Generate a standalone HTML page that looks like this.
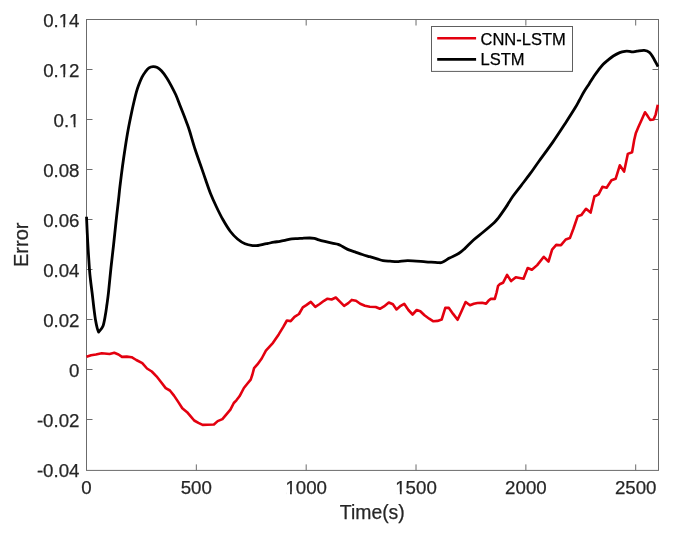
<!DOCTYPE html>
<html><head><meta charset="utf-8"><style>
html,body{margin:0;padding:0;background:#fff;width:673px;height:533px;overflow:hidden}
svg{display:block;will-change:transform}
text{font-family:"Liberation Sans",sans-serif;stroke-width:0.25px}
</style></head><body>
<svg width="673" height="533" viewBox="0 0 673 533">
<rect width="673" height="533" fill="#fff"/>
<rect x="86.5" y="19.5" width="572.0" height="450.9" fill="none" stroke="#6b6b6b" stroke-width="1"/>
<path d="M86.5 419.50h6 M658.5 419.50h-6 M86.5 369.50h6 M658.5 369.50h-6 M86.5 319.50h6 M658.5 319.50h-6 M86.5 269.50h6 M658.5 269.50h-6 M86.5 219.50h6 M658.5 219.50h-6 M86.5 169.50h6 M658.5 169.50h-6 M86.5 119.50h6 M658.5 119.50h-6 M86.5 69.50h6 M658.5 69.50h-6 M196.34 470.4v-6 M196.34 19.5v6 M306.18 470.4v-6 M306.18 19.5v6 M416.02 470.4v-6 M416.02 19.5v6 M525.86 470.4v-6 M525.86 19.5v6 M635.70 470.4v-6 M635.70 19.5v6" stroke="#6b6b6b" stroke-width="1"/>
<path d="M86.50 216.80C86.70 220.95 87.22 233.08 87.70 241.70C88.18 250.32 88.93 262.12 89.40 268.50C89.87 274.88 90.03 275.83 90.50 280.00C90.97 284.17 91.63 288.80 92.20 293.50C92.77 298.20 93.33 303.68 93.90 308.20C94.47 312.72 95.03 317.22 95.60 320.60C96.17 323.98 96.80 326.58 97.30 328.50C97.80 330.42 98.38 331.50 98.60 332.10C99.32 331.12 101.80 328.87 102.90 326.20C104.00 323.53 104.53 319.67 105.20 316.10C105.87 312.53 106.35 308.75 106.90 304.80C107.45 300.85 107.82 298.62 108.50 292.40C109.18 286.18 110.17 275.32 111.00 267.50C111.83 259.68 112.67 253.10 113.50 245.50C114.33 237.90 115.17 229.48 116.00 221.90C116.83 214.32 117.85 205.83 118.50 200.00C119.15 194.17 119.23 192.52 119.90 186.90C120.57 181.28 121.60 172.95 122.50 166.30C123.40 159.65 124.37 153.05 125.30 147.00C126.23 140.95 127.05 135.75 128.10 130.00C129.15 124.25 130.55 117.50 131.60 112.50C132.65 107.50 133.62 103.37 134.40 100.00C135.18 96.63 135.62 94.72 136.30 92.30C136.98 89.88 137.57 88.00 138.50 85.50C139.43 83.00 140.77 79.55 141.90 77.30C143.03 75.05 144.12 73.57 145.30 72.00C146.48 70.43 147.70 68.80 149.00 67.90C150.30 67.00 151.72 66.67 153.10 66.60C154.48 66.53 155.92 66.80 157.30 67.50C158.68 68.20 159.82 69.07 161.40 70.80C162.98 72.53 165.15 75.40 166.80 77.90C168.45 80.40 169.80 82.98 171.30 85.80C172.80 88.62 174.38 91.62 175.80 94.80C177.22 97.98 178.50 101.62 179.80 104.90C181.10 108.18 182.43 111.48 183.60 114.50C184.77 117.52 185.80 120.25 186.80 123.00C187.80 125.75 188.23 126.67 189.60 131.00C190.97 135.33 192.97 142.73 195.00 149.00C197.03 155.27 200.02 163.43 201.80 168.60C203.58 173.77 204.25 175.85 205.70 180.00C207.15 184.15 208.70 189.00 210.50 193.50C212.30 198.00 214.42 202.62 216.50 207.00C218.58 211.38 220.68 215.72 223.00 219.80C225.32 223.88 227.98 228.30 230.40 231.50C232.82 234.70 235.07 236.95 237.50 239.00C239.93 241.05 242.48 242.70 245.00 243.80C247.52 244.90 250.43 245.32 252.60 245.60C254.77 245.88 256.10 245.73 258.00 245.50C259.90 245.27 262.33 244.55 264.00 244.20C265.67 243.85 266.35 243.73 268.00 243.40C269.65 243.07 271.92 242.55 273.90 242.20C275.88 241.85 277.92 241.65 279.90 241.30C281.88 240.95 283.82 240.52 285.80 240.10C287.78 239.68 289.82 239.05 291.80 238.80C293.78 238.55 295.93 238.68 297.70 238.60C299.47 238.52 300.37 238.40 302.40 238.30C304.43 238.20 307.92 237.98 309.90 238.00C311.88 238.02 312.82 238.08 314.30 238.40C315.78 238.72 317.07 239.40 318.80 239.90C320.53 240.40 322.48 240.87 324.70 241.40C326.92 241.93 329.87 242.62 332.10 243.10C334.33 243.58 336.37 243.73 338.10 244.30C339.83 244.87 340.70 245.57 342.50 246.50C344.30 247.43 346.83 249.00 348.90 249.90C350.97 250.80 352.67 251.13 354.90 251.90C357.13 252.67 359.83 253.70 362.30 254.50C364.77 255.30 367.23 255.97 369.70 256.70C372.17 257.43 374.87 258.25 377.10 258.90C379.33 259.55 380.95 260.22 383.10 260.60C385.25 260.98 387.47 261.03 390.00 261.20C392.53 261.37 395.33 261.68 398.30 261.60C401.27 261.52 403.23 260.67 407.80 260.70C412.37 260.73 420.73 261.48 425.70 261.80C430.67 262.12 434.83 262.52 437.60 262.60C440.37 262.68 440.32 263.05 442.30 262.30C444.28 261.55 446.72 259.60 449.50 258.10C452.28 256.60 456.42 254.92 459.00 253.30C461.58 251.68 462.58 250.62 465.00 248.40C467.42 246.18 470.45 242.73 473.50 240.00C476.55 237.27 479.78 234.97 483.30 232.00C486.82 229.03 492.02 224.65 494.60 222.20C497.18 219.75 496.93 219.77 498.80 217.30C500.67 214.83 503.45 210.90 505.80 207.40C508.15 203.90 510.32 199.98 512.90 196.30C515.48 192.62 518.48 188.98 521.30 185.30C524.12 181.62 526.88 178.17 529.80 174.20C532.72 170.23 534.93 166.88 538.80 161.50C542.67 156.12 548.57 148.28 553.00 141.90C557.43 135.52 561.73 128.83 565.40 123.20C569.07 117.57 572.65 111.97 575.00 108.10C577.35 104.23 578.00 102.72 579.50 100.00C581.00 97.28 582.40 94.48 584.00 91.80C585.60 89.12 587.42 86.53 589.10 83.90C590.78 81.27 592.52 78.35 594.10 76.00C595.68 73.65 597.08 71.77 598.60 69.80C600.12 67.83 601.68 65.78 603.20 64.20C604.72 62.62 606.02 61.67 607.70 60.30C609.38 58.93 611.30 57.28 613.30 56.00C615.30 54.72 617.77 53.38 619.70 52.60C621.63 51.82 623.30 51.52 624.90 51.30C626.50 51.08 628.07 51.20 629.30 51.30C630.53 51.40 631.02 51.92 632.30 51.90C633.58 51.88 635.02 51.45 637.00 51.20C638.98 50.95 642.13 50.22 644.20 50.40C646.27 50.58 647.92 51.12 649.40 52.30C650.88 53.48 651.67 55.12 653.10 57.50C654.53 59.88 657.18 65.08 658.00 66.60" fill="none" stroke="#000" stroke-width="2.8" stroke-linejoin="round" stroke-linecap="butt"/>
<polyline points="86.5,356.8 91.1,355.2 95.9,354.5 101.8,353.3 109.6,354.0 114.3,352.8 118.5,354.5 122.0,356.9 126.8,356.6 131.6,357.2 136.3,360.0 142.3,363.2 147.0,368.5 151.8,371.5 156.5,376.3 160.4,381.3 165.7,388.1 169.9,390.5 174.0,395.6 178.2,401.9 182.3,408.3 187.1,412.2 190.7,416.4 194.2,420.5 198.4,422.9 202.6,424.9 207.3,424.7 213.9,424.5 217.7,421.1 222.4,419.1 226.4,414.4 230.4,409.7 233.8,403.0 236.4,400.3 239.5,396.3 243.9,388.0 247.3,383.8 250.7,379.6 252.4,374.5 254.1,368.2 257.4,364.4 261.7,358.5 265.9,350.7 273.0,342.8 278.7,334.4 283.3,326.9 286.9,320.5 290.7,321.1 294.5,316.8 299.0,314.0 302.8,307.4 306.3,305.1 310.8,301.9 315.3,306.8 319.7,304.0 324.0,300.8 327.5,298.7 331.6,299.5 335.8,297.5 339.9,301.6 344.1,305.8 348.3,303.1 351.8,299.9 356.0,300.8 360.2,303.8 364.9,305.8 369.8,306.8 375.7,307.0 379.9,308.8 384.0,306.4 388.8,302.5 392.9,304.3 396.5,309.4 400.7,305.8 404.2,303.8 408.4,310.0 412.6,314.5 416.7,310.0 420.3,311.2 424.5,315.3 429.2,318.7 433.4,321.3 437.5,320.9 441.7,319.5 445.3,307.9 448.9,307.9 453.1,313.9 457.6,319.8 461.4,311.5 465.6,302.0 470.0,305.3 473.8,303.8 477.5,303.0 482.0,302.8 486.1,303.6 488.4,300.8 490.6,298.9 494.8,298.9 496.6,292.5 498.1,285.8 499.6,284.3 503.0,282.8 507.1,274.9 511.1,281.1 515.8,277.2 523.5,278.8 527.7,268.0 531.9,269.8 537.2,265.1 543.8,256.8 548.5,261.5 552.1,249.6 556.2,244.9 561.0,245.2 565.7,239.5 569.9,238.1 573.5,228.5 577.7,216.2 581.3,215.1 586.0,208.8 590.6,212.6 594.4,196.5 598.6,194.4 602.4,186.8 606.6,187.7 611.5,180.2 615.6,178.8 619.8,165.3 624.1,171.6 627.8,153.9 632.1,152.2 634.2,140.0 635.9,132.9 638.4,127.0 641.8,119.5 645.0,112.3 647.7,116.1 650.2,119.9 653.6,119.5 655.7,114.4 657.8,104.7" fill="none" stroke="#e3000f" stroke-width="2.6" stroke-linejoin="round" stroke-linecap="butt"/>
<g font-size="18.7" fill="#262626" stroke="#262626" text-anchor="end"><text x="79.5" y="477.2">-0.04</text><text x="79.5" y="427.2">-0.02</text><text x="79.5" y="377.2">0</text><text x="79.5" y="327.2">0.02</text><text x="79.5" y="277.2">0.04</text><text x="79.5" y="227.2">0.06</text><text x="79.5" y="177.2">0.08</text><text x="79.5" y="127.2">0.1</text><text x="79.5" y="77.2">0.12</text><text x="79.5" y="27.2">0.14</text></g>
<g font-size="18.7" fill="#262626" stroke="#262626" text-anchor="middle"><text x="86.5" y="494.4">0</text><text x="196.3" y="494.4">500</text><text x="306.2" y="494.4">1000</text><text x="416.0" y="494.4">1500</text><text x="525.9" y="494.4">2000</text><text x="635.7" y="494.4">2500</text></g>
<g fill="#fff"><rect x="69.92" y="124.50" width="3.83" height="4.00"/><rect x="75.51" y="124.50" width="3.68" height="4.00"/><rect x="59.52" y="74.50" width="3.83" height="4.00"/><rect x="65.10" y="74.50" width="3.68" height="4.00"/><rect x="59.52" y="24.50" width="3.83" height="4.00"/><rect x="65.10" y="24.50" width="3.68" height="4.00"/><rect x="286.20" y="491.70" width="3.83" height="4.00"/><rect x="291.78" y="491.70" width="3.68" height="4.00"/><rect x="396.04" y="491.70" width="3.83" height="4.00"/><rect x="401.62" y="491.70" width="3.68" height="4.00"/></g>
<text x="372.3" y="519" font-size="19.4" fill="#262626" stroke="#262626" text-anchor="middle">Time(s)</text>
<text transform="translate(27.8 244.8) rotate(-90)" font-size="20" fill="#262626" stroke="#262626" text-anchor="middle">Error</text>
<rect x="431.5" y="26.5" width="141" height="44.9" fill="#fff" stroke="#5e5e5e" stroke-width="1"/>
<path d="M437.2 38.3H476.1" stroke="#e3000f" stroke-width="2.6"/>
<path d="M437.2 59.3H476.1" stroke="#000" stroke-width="2.8"/>
<g font-size="16.5" fill="#000" stroke="#000"><text x="480.5" y="44.6">CNN-LSTM</text><text x="480.5" y="64.9">LSTM</text></g>
</svg>
</body></html>
